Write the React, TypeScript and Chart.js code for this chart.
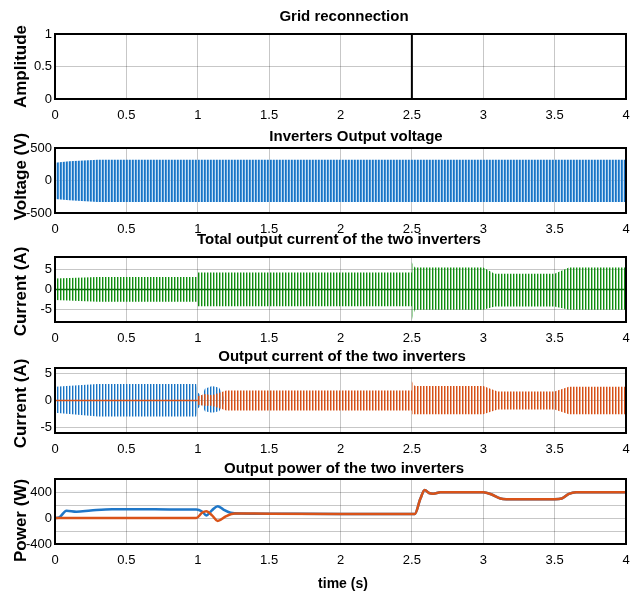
import React, { useEffect, useRef } from 'react';
import { Chart, registerables } from 'chart.js';

Chart.register(...registerables);

// ---------- data ----------
// Grid reconnection signal
const gridT = [0, 2.5, 2.5, 4];
const gridSignal = [0, 0, 1, 1];

// Inverters output voltage (envelope of the 50 Hz waveform)
const voltageT = [0, 0.1, 0.3, 4];
const voltageUpper = [275, 295, 320, 320];
const voltageLower = [-285, -305, -330, -330];

// Total output current (envelope)
const totalT = [0, 0.3, 1, 1, 2.5, 2.5, 2.52, 3, 3.08, 3.5, 3.6, 4];
const totalUpper = [2.7, 3.1, 3.1, 4.2, 4.2, 6.7, 5.4, 5.4, 3.9, 3.9, 5.4, 5.4];
const totalLower = [-2.6, -3.0, -3.0, -4.1, -4.1, -7.5, -5.0, -5.0, -4.2, -4.2, -5.0, -5.0];
const totalCenterT = [0, 4];
const totalCenter = [0, 0];

// Output current of inverter 1 (blue envelope)
const inv1T = [0, 0.3, 0.99, 1.0, 1.03, 1.05, 1.1, 1.15, 1.19];
const inv1Upper = [2.6, 3.1, 3.1, 1.5, 0.8, 2.2, 2.7, 2.4, 0.3];
const inv1Lower = [-2.3, -3.0, -3.0, -1.5, -0.8, -2.0, -2.3, -2.0, -0.3];

// Output current of inverter 2 (orange envelope)
const inv2T = [1.0, 1.0, 1.05, 1.1, 1.2, 2.5, 2.5, 2.52, 3.0, 3.1, 3.5, 3.6, 4];
const inv2Upper = [0, 0.8, 1.2, 1.0, 1.9, 1.9, 3.6, 2.7, 2.7, 1.7, 1.7, 2.6, 2.6];
const inv2Lower = [0, -0.8, -1.0, -1.0, -1.9, -1.9, -2.6, -2.6, -2.6, -1.7, -1.7, -2.6, -2.6];
const inv2IdleT = [0, 1];
const inv2Idle = [0, 0];

// Output power
const powerBlueT = [0, 0.03, 0.08, 0.15, 0.25, 0.4, 0.6, 0.8, 0.99, 1.03, 1.06, 1.1, 1.14, 1.18, 1.23, 1.3, 1.5, 2.0, 2.52, 2.56, 2.59, 2.62, 2.65, 2.7, 3.0, 3.05, 3.12, 3.16, 3.5, 3.55, 3.6, 3.65, 4];
const powerBlue = [0, 10, 112, 97, 115, 135, 135, 132, 132, 100, 40, 120, 182, 130, 82, 68, 65, 62, 62, 300, 430, 385, 375, 395, 395, 370, 300, 290, 290, 300, 370, 395, 395];
const powerOrangeT = [0, 0.99, 1.03, 1.06, 1.1, 1.14, 1.2, 1.26, 1.5, 2.0, 2.52, 2.56, 2.59, 2.62, 2.65, 2.7, 3.0, 3.05, 3.12, 3.16, 3.5, 3.55, 3.6, 3.65, 4];
const powerOrange = [0, 0, 80, 105, 40, -45, 30, 70, 65, 62, 62, 300, 430, 385, 375, 395, 395, 370, 300, 290, 290, 300, 370, 395, 395];

// tick labels
const timeTicks = [0, 0.5, 1, 1.5, 2, 2.5, 3, 3.5, 4];
const ampTicks = [0, 0.5, 1];
const voltTicks = [-500, 0, 500];
const currTicks = [-5, 0, 5];
const powerTicks = [-400, -200, 0, 200, 400, 600];
const powerTickLabels = [-400, 0, 400];

// ---------- helpers ----------
const pts = (t: number[], v: number[]) => t.map((x, i) => ({ x, y: v[i] }));

const BLUE = '#1f77c8';
const ORANGE = '#d95319';
const FONT = "'Liberation Sans', Arial, sans-serif";

function stripes(cols: string[]) {
  const c = document.createElement('canvas');
  c.width = cols.length;
  c.height = 4;
  const g = c.getContext('2d')!;
  cols.forEach((col, i) => {
    g.fillStyle = col;
    g.fillRect(i, 0, 1, 4);
  });
  return g.createPattern(c, 'repeat')!;
}

type Deco = {
  title: string;
  titleX: number;
  titleDy: number;
  yLabel: string;
  yLabelDy: number;
  xLabel?: string;
};

function decorPlugin(d: Deco) {
  return {
    id: 'decor',
    afterDatasetsDraw(chart: any) {
      const { left, top, right, bottom } = chart.chartArea;
      const ctx = chart.ctx;
      ctx.save();
      ctx.strokeStyle = '#000';
      ctx.lineWidth = 2;
      ctx.strokeRect(left, top, right - left, bottom - top);
      ctx.restore();
    },
    afterDraw(chart: any) {
      const { top, bottom } = chart.chartArea;
      const ctx = chart.ctx;
      ctx.save();
      ctx.fillStyle = '#000';
      ctx.font = `bold 15px ${FONT}`;
      ctx.textAlign = 'center';
      ctx.textBaseline = 'middle';
      ctx.fillText(d.title, d.titleX, top - d.titleDy);
      ctx.font = `bold 17px ${FONT}`;
      ctx.translate(21, (top + bottom) / 2 + d.yLabelDy);
      ctx.rotate(-Math.PI / 2);
      ctx.fillText(d.yLabel, 0, 0);
      ctx.restore();
      if (d.xLabel) {
        ctx.save();
        ctx.fillStyle = '#000';
        ctx.font = `bold 14px ${FONT}`;
        ctx.textAlign = 'center';
        ctx.textBaseline = 'middle';
        ctx.fillText(d.xLabel, 343, bottom + 40);
        ctx.restore();
      }
    },
  };
}

function makeOptions(
  yMin: number,
  yMax: number,
  yTicks: number[],
  bottomPad: number,
  labelFilter?: number[]
) {
  const tickFont = { family: FONT, size: 13 };
  const gridColor = 'rgba(0,0,0,0.22)';
  return {
    animation: false,
    responsive: false,
    devicePixelRatio: 1,
    events: [],
    layout: { padding: { left: 0, right: 8, top: 30, bottom: bottomPad } },
    plugins: {
      legend: { display: false },
      tooltip: { enabled: false },
      title: { display: false },
    },
    elements: { point: { radius: 0 }, line: { tension: 0 } },
    scales: {
      x: {
        type: 'linear',
        min: 0,
        max: 4,
        afterBuildTicks: (s: any) => {
          s.ticks = timeTicks.map((v) => ({ value: v }));
        },
        ticks: {
          padding: 9,
          color: '#000',
          font: tickFont,
          maxRotation: 0,
          autoSkip: false,
          callback: (v: any) => String(v),
        },
        grid: { color: gridColor, lineWidth: 1, drawTicks: false },
        border: { display: false },
        afterFit: (s: any) => {
          s.height = 28;
          s.paddingLeft = 0;
          s.paddingRight = 0;
        },
      },
      y: {
        type: 'linear',
        min: yMin,
        max: yMax,
        afterBuildTicks: (s: any) => {
          s.ticks = yTicks.map((v) => ({ value: v }));
        },
        ticks: {
          padding: 3,
          color: '#000',
          font: tickFont,
          autoSkip: false,
          callback: (v: any) =>
            labelFilter ? (labelFilter.includes(Number(v)) ? String(v) : '') : String(v),
        },
        grid: { color: gridColor, lineWidth: 1, drawTicks: false },
        border: { display: false },
        afterFit: (s: any) => {
          s.width = 55;
          s.paddingTop = 0;
          s.paddingBottom = 0;
        },
      },
    },
  } as any;
}

const band = (t: number[], up: number[], lo: number[], pattern: any) => [
  {
    data: pts(t, up),
    borderColor: 'rgba(0,0,0,0)',
    borderWidth: 0,
    backgroundColor: pattern,
    fill: '+1',
  },
  {
    data: pts(t, lo),
    borderColor: 'rgba(0,0,0,0)',
    borderWidth: 0,
    fill: false,
  },
];

const LAYOUT = [
  { top: 4, height: 123 },
  { top: 118, height: 123 },
  { top: 227, height: 123 },
  { top: 338, height: 123 },
  { top: 449, height: 146 },
];

export default function App() {
  const r0 = useRef<HTMLCanvasElement>(null);
  const r1 = useRef<HTMLCanvasElement>(null);
  const r2 = useRef<HTMLCanvasElement>(null);
  const r3 = useRef<HTMLCanvasElement>(null);
  const r4 = useRef<HTMLCanvasElement>(null);
  const refs = [r0, r1, r2, r3, r4];

  useEffect(() => {
    const bluePat = stripes(['#1b72c2', '#3f93d8', 'rgba(150,195,235,0.55)']);
    const greenPat = stripes(['#118c11', 'rgba(30,160,30,0.45)', 'rgba(0,0,0,0)']);
    const orangePat = stripes(['#d4501a', 'rgba(225,100,40,0.55)', 'rgba(0,0,0,0)']);
    const blueCurPat = stripes(['#1b72c2', 'rgba(60,150,220,0.5)', 'rgba(0,0,0,0)']);

    const charts: Chart[] = [];

    charts.push(
      new Chart(r0.current!, {
        type: 'line',
        data: {
          datasets: [
            { data: pts(gridT, gridSignal), borderColor: '#000', borderWidth: 2, fill: false },
          ],
        },
        options: makeOptions(0, 1, ampTicks, 0),
        plugins: [
          decorPlugin({ title: 'Grid reconnection', titleX: 344, titleDy: 17, yLabel: 'Amplitude', yLabelDy: 0 }),
        ],
      } as any)
    );

    charts.push(
      new Chart(r1.current!, {
        type: 'line',
        data: { datasets: band(voltageT, voltageUpper, voltageLower, bluePat) },
        options: makeOptions(-500, 500, voltTicks, 0),
        plugins: [
          decorPlugin({ title: 'Inverters Output voltage', titleX: 356, titleDy: 11, yLabel: 'Voltage (V)', yLabelDy: -4 }),
        ],
      } as any)
    );

    charts.push(
      new Chart(r2.current!, {
        type: 'line',
        data: {
          datasets: [
            { data: pts(totalCenterT, totalCenter), borderColor: '#0b6f0b', borderWidth: 1.5, fill: false },
            ...band(totalT, totalUpper, totalLower, greenPat),
          ],
        },
        options: makeOptions(-8, 8, currTicks, 0),
        plugins: [
          decorPlugin({ title: 'Total output current of the two inverters', titleX: 339, titleDy: 17, yLabel: 'Current (A)', yLabelDy: 2 }),
        ],
      } as any)
    );

    charts.push(
      new Chart(r3.current!, {
        type: 'line',
        data: {
          datasets: [
            { data: pts(inv2IdleT, inv2Idle), borderColor: ORANGE, borderWidth: 1.5, fill: false },
            ...band(inv2T, inv2Upper, inv2Lower, orangePat),
            ...band(inv1T, inv1Upper, inv1Lower, blueCurPat),
          ],
        },
        options: makeOptions(-6.1, 6.1, currTicks, 0),
        plugins: [
          decorPlugin({ title: 'Output current of the two inverters', titleX: 342, titleDy: 11, yLabel: 'Current (A)', yLabelDy: 3 }),
        ],
      } as any)
    );

    charts.push(
      new Chart(r4.current!, {
        type: 'line',
        data: {
          datasets: [
            { data: pts(powerOrangeT, powerOrange), borderColor: ORANGE, borderWidth: 2.5, fill: false, tension: 0.3, cubicInterpolationMode: 'monotone' },
            { data: pts(powerBlueT, powerBlue), borderColor: BLUE, borderWidth: 2.5, fill: false, tension: 0.3, cubicInterpolationMode: 'monotone' },
          ],
        },
        options: makeOptions(-400, 600, powerTicks, 23, powerTickLabels),
        plugins: [
          decorPlugin({ title: 'Output power of the two inverters', titleX: 344, titleDy: 10, yLabel: 'Power (W)', yLabelDy: 9, xLabel: 'time (s)' }),
        ],
      } as any)
    );

    return () => charts.forEach((c) => c.destroy());
  }, []);

  return (
    <div style={{ position: 'absolute', left: 0, top: 0, width: 634, height: 595, overflow: 'hidden', background: '#fff' }}>
      {LAYOUT.map((l, i) => (
        <canvas
          key={i}
          ref={refs[i]}
          width={634}
          height={l.height}
          style={{ position: 'absolute', left: 0, top: l.top, width: 634, height: l.height }}
        />
      ))}
    </div>
  );
}
